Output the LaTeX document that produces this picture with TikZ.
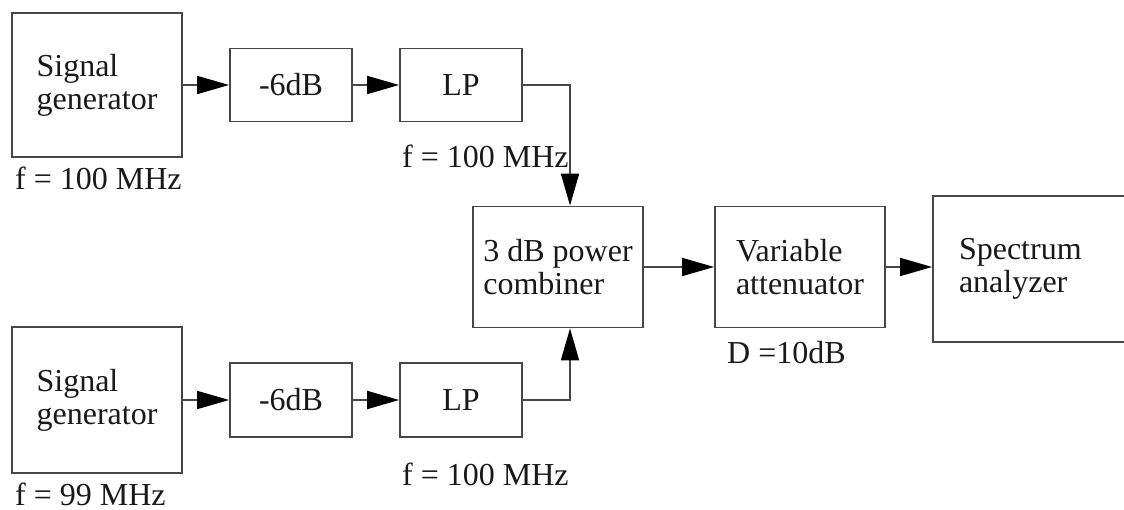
\documentclass[tikz,border=0pt]{standalone}
\usepackage{fontspec}
\setmainfont{Liberation Serif}
\usetikzlibrary{arrows.meta}
\begin{document}
\begin{tikzpicture}[x=1pt,y=-1pt,
  blk/.style={draw=black!72, line width=1.8pt, fill=white, inner sep=0pt,
    font=\fontsize{32}{33}\selectfont, text=black!90},
  lbl/.style={inner sep=0pt, anchor=base west,
    font=\fontsize{32}{33}\selectfont, text=black!90},
  arr/.style={draw=black!72, line width=1.8pt,
    -{Triangle[length=32pt 0,width=18pt 0,color=black]}}]
\useasboundingbox (0,0) rectangle (1124,510);
% upper chain
\node[blk, minimum width=170pt, minimum height=144pt, align=left] (sg1) at (97,85) {Signal\\generator};
\node[blk, minimum width=122pt, minimum height=73pt] (m1) at (291,85) {-6dB};
\node[blk, minimum width=122pt, minimum height=73pt] (lp1) at (461,85) {LP};
% lower chain
\node[blk, minimum width=170pt, minimum height=146pt, align=left] (sg2) at (97,400) {Signal\\generator};
\node[blk, minimum width=122pt, minimum height=74pt] (m2) at (291,400) {-6dB};
\node[blk, minimum width=122pt, minimum height=74pt] (lp2) at (461,400) {LP};
% right part
\node[blk, minimum width=170pt, minimum height=121pt, align=left] (comb) at (558,267) {3 dB power\\combiner};
\node[blk, minimum width=170pt, minimum height=121pt, align=left] (att) at (800,267) {Variable\\attenuator};
\node[blk, minimum height=146pt, text width=155pt, inner xsep=26pt, align=left] (sa) at (1036.5,269) {Spectrum\\analyzer};
% labels
\node[lbl] (f1) at (15,190) {f = 100 MHz};
\node[lbl] (f2) at (402,168) {f = 100 MHz};
\node[lbl] (f3) at (15,505) {f = 99 MHz};
\node[lbl] (f4) at (402,485) {f = 100 MHz};
\node[lbl] (dl) at (727,363) {D =10dB};
% connectors
\coordinate (cx) at (570,0);
\draw[arr] (sg1.east) -- (sg1.east -| m1.west);
\draw[arr] (m1.east) -- (m1.east -| lp1.west);
\draw[arr] (sg2.east) -- (sg2.east -| m2.west);
\draw[arr] (m2.east) -- (m2.east -| lp2.west);
\draw[arr] (lp1.east) -| (cx |- comb.north);
\draw[arr] (lp2.east) -| (cx |- comb.south);
\draw[arr] (comb.east) -- (comb.east -| att.west);
\draw[arr] (att.east) -- (att.east -| sa.west);
\end{tikzpicture}
\end{document}
